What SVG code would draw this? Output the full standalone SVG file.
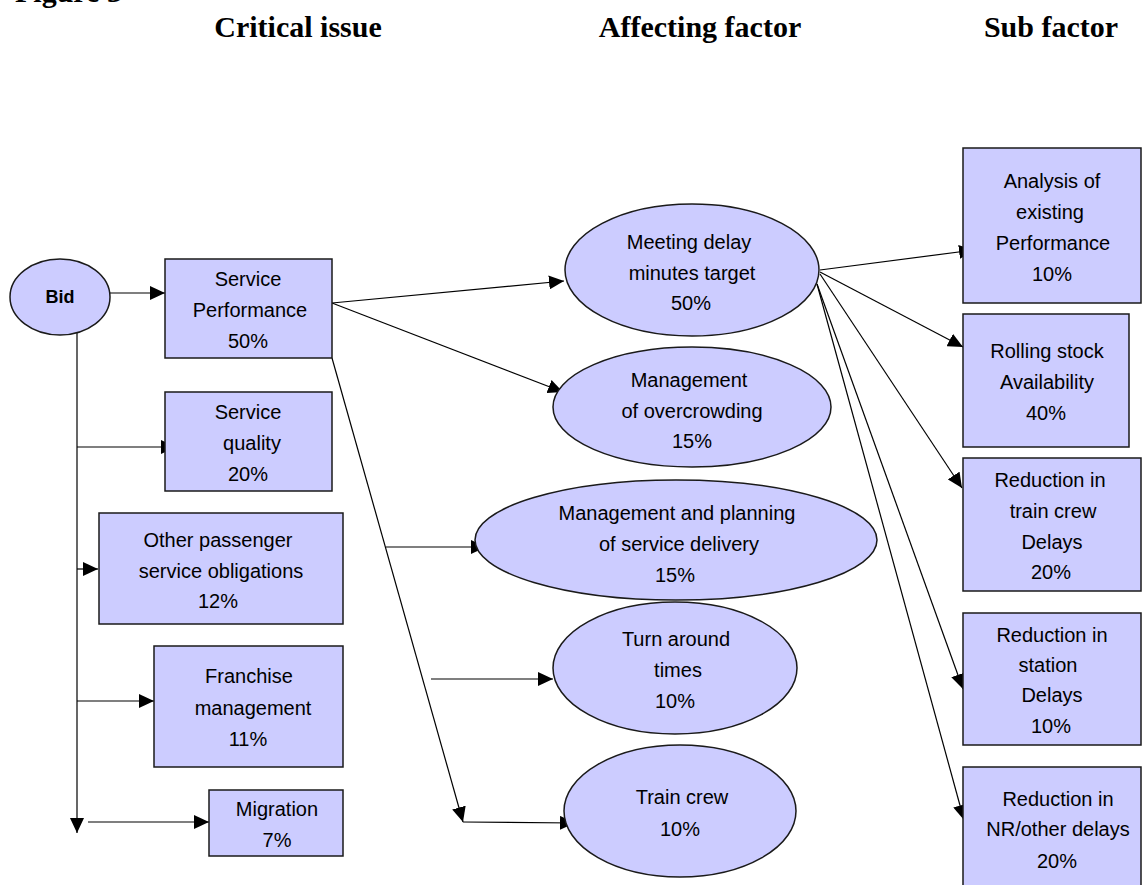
<svg xmlns="http://www.w3.org/2000/svg" width="1142" height="885" viewBox="0 0 1142 885">
<style>
.node{fill:#ccccff;stroke:#1a1a1a;stroke-width:1.5}
.t{font-family:"Liberation Sans",Arial,sans-serif;font-size:20px;fill:#000;text-anchor:middle}
.b{font-weight:bold;font-size:18px}
.h{font-family:"Liberation Serif","Times New Roman",serif;font-weight:bold;font-size:30px;fill:#000;text-anchor:middle}
.c{stroke:#000;stroke-width:1.2;fill:none}
</style>
<defs>
<marker id="ah" markerUnits="userSpaceOnUse" markerWidth="16" markerHeight="14" refX="15" refY="7" orient="auto">
<path d="M0,0 L15,7 L0,14 z" fill="#000"/>
</marker>
</defs>
<rect width="1142" height="885" fill="#fff"/>
<g id="headers">
<text class="h" x="15" y="2" style="text-anchor:start">Figure 3</text>
<text class="h" x="298" y="37">Critical issue</text>
<text class="h" x="700" y="37">Affecting factor</text>
<text class="h" x="1051" y="37">Sub factor</text>
</g>
<g id="connectors">
<line class="c" x1="110" y1="293" x2="165" y2="293" marker-end="url(#ah)"/>
<line class="c" x1="77" y1="333" x2="77" y2="833" marker-end="url(#ah)"/>
<line class="c" x1="77" y1="447" x2="176" y2="447" marker-end="url(#ah)"/>
<line class="c" x1="77" y1="569" x2="98" y2="569" marker-end="url(#ah)"/>
<line class="c" x1="77" y1="701" x2="154" y2="701" marker-end="url(#ah)"/>
<line class="c" x1="88" y1="822" x2="209" y2="822" marker-end="url(#ah)"/>
<line class="c" x1="332" y1="303" x2="564" y2="281" marker-end="url(#ah)"/>
<line class="c" x1="332" y1="303" x2="563" y2="392" marker-end="url(#ah)"/>
<line class="c" x1="332" y1="358" x2="463" y2="822" marker-end="url(#ah)"/>
<line class="c" x1="463" y1="822" x2="575" y2="823" marker-end="url(#ah)"/>
<line class="c" x1="386" y1="547" x2="486" y2="547" marker-end="url(#ah)"/>
<line class="c" x1="431" y1="679" x2="553" y2="679" marker-end="url(#ah)"/>
<line class="c" x1="820" y1="270" x2="974" y2="250" marker-end="url(#ah)"/>
<line class="c" x1="820" y1="272" x2="963" y2="347" marker-end="url(#ah)"/>
<line class="c" x1="820" y1="274" x2="962" y2="488" marker-end="url(#ah)"/>
<line class="c" x1="817" y1="284" x2="963" y2="689" marker-end="url(#ah)"/>
<line class="c" x1="817" y1="284" x2="964" y2="820" marker-end="url(#ah)"/>
</g>
<g id="bid">
<ellipse class="node" cx="60" cy="297" rx="50" ry="38"/>
<text class="t b" x="60" y="303">Bid</text>
</g>
<g id="service-performance">
<rect class="node" x="165" y="259" width="167" height="99"/>
<text class="t" x="248" y="286">Service</text>
<text class="t" x="250" y="317">Performance</text>
<text class="t" x="248" y="348">50%</text>
</g>
<g id="service-quality">
<rect class="node" x="165" y="392" width="167" height="99"/>
<text class="t" x="248" y="419">Service</text>
<text class="t" x="252" y="450">quality</text>
<text class="t" x="248" y="481">20%</text>
</g>
<g id="other-passenger">
<rect class="node" x="99" y="513" width="244" height="111"/>
<text class="t" x="218" y="547">Other passenger</text>
<text class="t" x="221" y="577.5">service obligations</text>
<text class="t" x="218" y="608">12%</text>
</g>
<g id="franchise">
<rect class="node" x="154" y="646" width="189" height="121"/>
<text class="t" x="249" y="683">Franchise</text>
<text class="t" x="253" y="714.5">management</text>
<text class="t" x="248" y="746">11%</text>
</g>
<g id="migration">
<rect class="node" x="209" y="790" width="134" height="66"/>
<text class="t" x="277" y="816">Migration</text>
<text class="t" x="277" y="847">7%</text>
</g>
<g id="meeting-delay">
<ellipse class="node" cx="692" cy="270" rx="127" ry="66"/>
<text class="t" x="689" y="249">Meeting delay</text>
<text class="t" x="692" y="279.5">minutes target</text>
<text class="t" x="691" y="310">50%</text>
</g>
<g id="overcrowding">
<ellipse class="node" cx="692" cy="407" rx="139" ry="60"/>
<text class="t" x="689" y="387">Management</text>
<text class="t" x="692" y="417.5">of overcrowding</text>
<text class="t" x="692" y="448">15%</text>
</g>
<g id="service-delivery">
<ellipse class="node" cx="676" cy="540" rx="201" ry="60"/>
<text class="t" x="677" y="520">Management and planning</text>
<text class="t" x="679" y="551">of service delivery</text>
<text class="t" x="675" y="582">15%</text>
</g>
<g id="turn-around">
<ellipse class="node" cx="675" cy="668" rx="122" ry="66"/>
<text class="t" x="676" y="646">Turn around</text>
<text class="t" x="678" y="677">times</text>
<text class="t" x="675" y="708">10%</text>
</g>
<g id="train-crew">
<ellipse class="node" cx="680" cy="811" rx="116" ry="66"/>
<text class="t" x="682" y="804">Train crew</text>
<text class="t" x="680" y="836">10%</text>
</g>
<g id="analysis">
<rect class="node" x="963" y="148" width="178" height="155"/>
<text class="t" x="1052" y="188">Analysis of</text>
<text class="t" x="1050" y="219">existing</text>
<text class="t" x="1053" y="250">Performance</text>
<text class="t" x="1052" y="281">10%</text>
</g>
<g id="rolling-stock">
<rect class="node" x="963" y="314" width="166" height="133"/>
<text class="t" x="1047" y="358">Rolling stock</text>
<text class="t" x="1047" y="389">Availability</text>
<text class="t" x="1046" y="420">40%</text>
</g>
<g id="train-crew-delays">
<rect class="node" x="963" y="458" width="178" height="133"/>
<text class="t" x="1050" y="487">Reduction in</text>
<text class="t" x="1053" y="518">train crew</text>
<text class="t" x="1052" y="548.5">Delays</text>
<text class="t" x="1051" y="579">20%</text>
</g>
<g id="station-delays">
<rect class="node" x="963" y="613" width="178" height="132"/>
<text class="t" x="1052" y="642">Reduction in</text>
<text class="t" x="1048" y="672">station</text>
<text class="t" x="1052" y="702">Delays</text>
<text class="t" x="1051" y="733">10%</text>
</g>
<g id="nr-delays">
<rect class="node" x="963" y="767" width="178" height="121"/>
<text class="t" x="1058" y="806">Reduction in</text>
<text class="t" x="1058" y="836">NR/other delays</text>
<text class="t" x="1057" y="868">20%</text>
</g>
</svg>
